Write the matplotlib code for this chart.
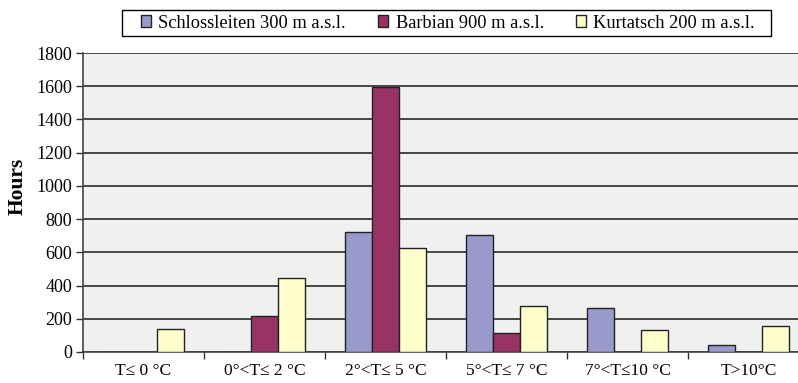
import matplotlib.pyplot as plt
from matplotlib.patches import Rectangle
import numpy as np

plt.rcParams['font.family'] = ['Liberation Serif', 'DejaVu Serif']

categories = ["T≤ 0 °C", "0°<T≤ 2 °C", "2°<T≤ 5 °C", "5°<T≤ 7 °C", "7°<T≤10 °C", "T>10°C"]
series_names = ["Schlossleiten 300 m a.s.l.", "Barbian 900 m a.s.l.", "Kurtatsch 200 m a.s.l."]
schlossleiten = [0, 0, 725, 705, 265, 42]
barbian = [0, 215, 1595, 112, 0, 0]
kurtatsch = [140, 447, 624, 275, 130, 155]
colors = ['#9999CC', '#993366', '#FFFFCC']

W, H = 798, 383
fig = plt.figure(figsize=(W / 100, H / 100), dpi=100)
# plot area: x 83..809 (cut at right edge), y 53..352
ax = fig.add_axes([83 / W, 1 - 352 / H, (809 - 83) / W, (352 - 53) / H])
ax.set_facecolor('#F0F0F0')

x = np.arange(len(categories))
bw = 1 / 4.5
for i, (vals, name, c) in enumerate(zip([schlossleiten, barbian, kurtatsch], series_names, colors)):
    ax.bar(x + (i - 1) * bw, vals, width=bw, color=c, edgecolor='#222222',
           linewidth=1.0, label=name, zorder=3)

ax.set_xlim(-0.5, len(categories) - 0.5)
ax.set_ylim(0, 1800)
ax.set_yticks(np.arange(0, 1801, 200))
ax.yaxis.grid(True, color='#3a3a3a', linewidth=1.3, zorder=1)
ax.set_axisbelow(True)

ax.set_xticks(x)
ax.set_xticklabels(categories, fontsize=12.5)
ax.tick_params(axis='x', length=0, pad=8)
ax.set_xticks(np.arange(-0.5, len(categories) + 0.5, 1), minor=True)
ax.tick_params(axis='x', which='minor', length=5, width=1, color='#333333', direction='out')
ax.tick_params(axis='y', labelsize=13, length=5, width=1, color='#333333', pad=3)

for s in ['top', 'right']:
    ax.spines[s].set_visible(False)
for s in ['left', 'bottom']:
    ax.spines[s].set_color('#444444')
    ax.spines[s].set_linewidth(1.2)

fig.text(18 / W, 1 - 186 / H, "Hours", rotation=90, fontsize=15.5, fontweight='bold',
         ha='center', va='center')

# legend box drawn separately to match the original frame
fig.patches.append(Rectangle((122 / W, 1 - 36 / H), (771 - 122) / W, 26 / H,
                             transform=fig.transFigure, facecolor='white',
                             edgecolor='black', linewidth=1.0))
leg = fig.legend(loc='center', bbox_to_anchor=(448 / W, 1 - 23 / H), ncol=3,
                 fontsize=13.2, frameon=False, handlelength=0.55,
                 handleheight=0.55, handletextpad=0.4, columnspacing=1.75,
                 borderpad=0.2)

fig.savefig('out.png', dpi=100)
